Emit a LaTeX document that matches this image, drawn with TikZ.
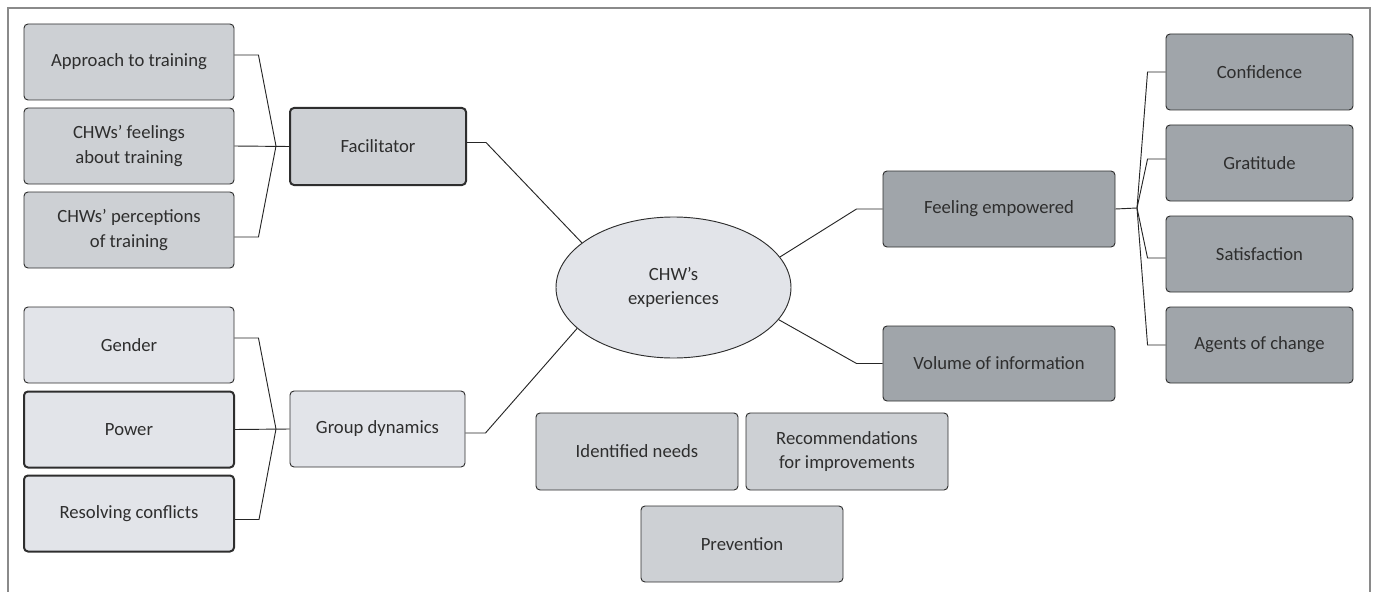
\documentclass[tikz,border=0pt]{standalone}
\usepackage{fontspec}
\setmainfont{Carlito}
\usetikzlibrary{shapes.geometric}
\definecolor{midgray}{HTML}{CDD0D4}
\definecolor{lightgray}{HTML}{E2E4E9}
\definecolor{darkgray}{HTML}{A0A5AA}
\definecolor{framegray}{HTML}{8A8A8A}
\definecolor{inkgray}{HTML}{2E2E2E}
\tikzset{
  box/.style={draw=inkgray, rounded corners=3pt, line width=0.7pt, align=center, inner sep=0pt,
    text=inkgray, font=\fontsize{14}{18.5}\selectfont},
  sidebox/.style={box, minimum width=157.5pt, minimum height=57pt},
  boldbox/.style={line width=1.5pt},
  link/.style={draw=black!85, line width=0.7pt},
}
\begin{document}
\begin{tikzpicture}[x=0.75pt,y=0.75pt,yscale=-1,xscale=1]
\useasboundingbox (0,0) rectangle (1375,592);
\draw[framegray, line width=1.1pt] (8,592) -- (8,8) -- (1370,8) -- (1370,592);
% left upper branch
\node[sidebox, fill=midgray] (appr) at (129,62) {Approach to training};
\node[sidebox, fill=midgray] (feel) at (129,146) {CHWs’ feelings\\about training};
\node[sidebox, fill=midgray] (perc) at (129,230) {CHWs’ perceptions\\of training};
\node[box, boldbox, fill=midgray, minimum width=132pt, minimum height=57.75pt] (facil) at (378,146.5) {Facilitator};
% left lower branch
\node[sidebox, fill=lightgray] (gend) at (129,345) {Gender};
\node[sidebox, boldbox, fill=lightgray] (powr) at (129,429.5) {Power};
\node[sidebox, boldbox, fill=lightgray] (reso) at (129,513.5) {Resolving conflicts};
\node[box, fill=lightgray, minimum width=131.25pt, minimum height=57pt] (group) at (377.5,429) {Group dynamics};
% centre
\node[ellipse, draw=inkgray, line width=0.7pt, fill=lightgray, inner sep=0pt, minimum width=176.25pt, minimum height=105.75pt,
  align=center, text=inkgray, font=\fontsize{14}{18.5}\selectfont] (chw) at (673.5,287.5) {CHW’s\\experiences};
% right branch
\node[box, fill=darkgray, minimum width=174pt, minimum height=57pt] (empw) at (999,209) {Feeling empowered};
\node[box, fill=darkgray, minimum width=174pt, minimum height=56.25pt] (volm) at (999,363.5) {Volume of information};
\node[box, fill=darkgray, minimum width=140.25pt, minimum height=57pt] (conf) at (1259.5,72) {Confidence};
\node[box, fill=darkgray, minimum width=140.25pt, minimum height=57pt] (grat) at (1259.5,163) {Gratitude};
\node[box, fill=darkgray, minimum width=140.25pt, minimum height=57pt] (satf) at (1259.5,254) {Satisfaction};
\node[box, fill=darkgray, minimum width=140.25pt, minimum height=57pt] (agnt) at (1259.5,345) {Agents of change};
% bottom
\node[box, fill=midgray, minimum width=151.5pt, minimum height=57.75pt] (need) at (637,451.5) {Identified needs};
\node[box, fill=midgray, minimum width=151.5pt, minimum height=57.75pt] (reco) at (847,451.5) {Recommendations\\for improvements};
\node[box, fill=midgray, minimum width=151.5pt, minimum height=57pt] (prev) at (742,544) {Prevention};
% connectors
\coordinate (jfac) at (276,146);
\coordinate (jgrp) at (276,429);
\coordinate (jemp) at (1137,208);
\draw[link] ([yshift=-5.25pt]appr.east) -- ++(24,0) -- (jfac);
\draw[link] ([yshift=5.25pt]perc.east) -- ++(24,0) -- (jfac);
\draw[link] (feel.east) -- (facil.west);
\draw[link] ([yshift=-5.25pt]gend.east) -- ++(24,0) -- (jgrp);
\draw[link] ([yshift=4.5pt]reso.east) -- ++(24,0) -- (jgrp);
\draw[link] (powr.east) -- (group.west);
\draw[link] ([yshift=-3pt]facil.east) -- ++(19,0) -- (chw.154);
\draw[link] ([yshift=3pt]group.east) -- ++(20,0) -- (chw.203);
\draw[link] (empw.west) -- ++(-26,0) -- (chw.16);
\draw[link] (volm.west) -- ++(-26,0) -- (chw.-17);
\draw[link] (empw.east) -- (jemp);
\draw[link] (conf.west) -- ++(-18,0) -- (jemp);
\draw[link] ([yshift=-3pt]grat.west) -- ++(-18,0) -- (jemp);
\draw[link] ([yshift=3pt]satf.west) -- ++(-18,0) -- (jemp);
\draw[link] (agnt.west) -- ++(-18,0) -- (jemp);
\end{tikzpicture}
\end{document}
